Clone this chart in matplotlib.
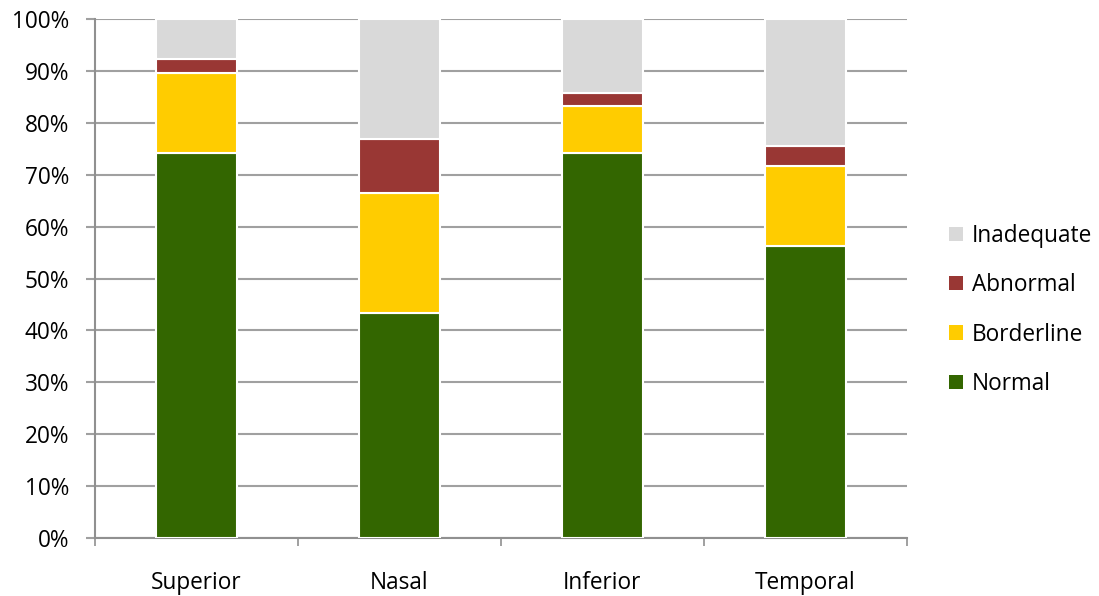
import matplotlib.pyplot as plt
import numpy as np

# Data (percent of each region)
regions = ["Superior", "Nasal", "Inferior", "Temporal"]
normal = [74.2, 43.4, 74.2, 56.3]
borderline = [15.4, 23.1, 9.0, 15.4]
abnormal = [2.6, 10.4, 2.5, 3.8]
inadequate = [7.8, 23.1, 14.3, 24.5]

series = [
    ("Normal", normal, "#336600"),
    ("Borderline", borderline, "#ffcc00"),
    ("Abnormal", abnormal, "#993734"),
    ("Inadequate", inadequate, "#d9d9d9"),
]

plt.rcParams["font.family"] = ["Open Sans", "DejaVu Sans"]
FS = 16.3

fig = plt.figure(figsize=(10.99, 5.96), dpi=100)
ax = fig.add_axes([0.0864, 0.0973, 0.7386, 0.8708])

x = np.arange(len(regions))
bottom = np.zeros(len(regions))
handles = {}
for name, vals, color in series:
    bars = ax.bar(x, vals, width=0.4, bottom=bottom, color=color,
                  edgecolor="white", linewidth=1.5, zorder=3, label=name)
    handles[name] = bars
    bottom += np.array(vals)

ax.set_xlim(-0.5, len(regions) - 0.5)
ax.set_ylim(0, 100)
ax.set_yticks(np.arange(0, 101, 10))
ax.set_yticklabels([f"{v}%" for v in range(0, 101, 10)], fontsize=FS)
ax.yaxis.grid(True, color="#a0a0a0", linewidth=1.5, zorder=0)

ax.set_xticks(x)
ax.set_xticklabels(regions, fontsize=FS)
ax.set_xticks(np.arange(-0.5, len(regions), 1), minor=True)
ax.tick_params(axis="x", which="major", length=0, pad=24)
ax.tick_params(axis="x", which="minor", length=6, color="#909090", width=1.2)
ax.tick_params(axis="y", length=6.5, color="#a0a0a0", width=1.5, pad=12)

for side in ["top", "right"]:
    ax.spines[side].set_visible(False)
for side in ["left", "bottom"]:
    ax.spines[side].set_color("#909090")
    ax.spines[side].set_linewidth(1.5)

order = ["Inadequate", "Abnormal", "Borderline", "Normal"]
leg = fig.legend([handles[n] for n in order], order, loc="center left",
                 bbox_to_anchor=(0.845, 0.48), frameon=False, fontsize=FS,
                 handlelength=0.6, handleheight=0.6, labelspacing=1.12,
                 handletextpad=0.4)
for h in leg.legend_handles:
    h.set_edgecolor("none")

fig.savefig("out.png", dpi=100)
